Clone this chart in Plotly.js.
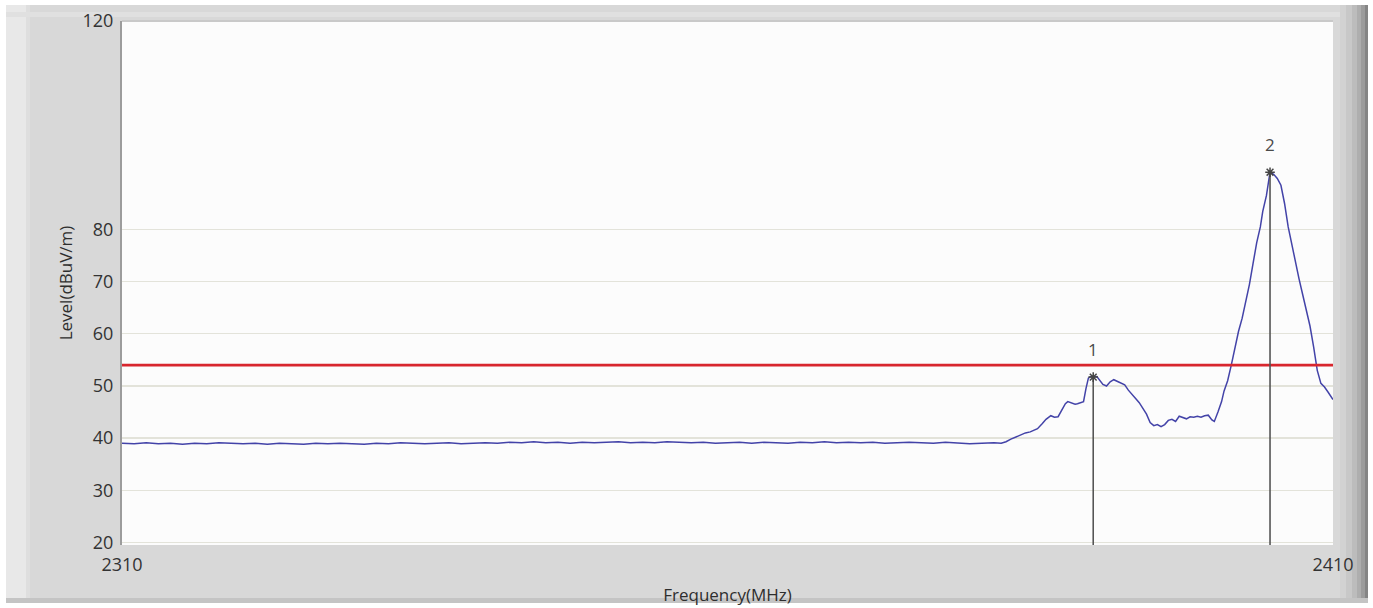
<!DOCTYPE html>
<html>
<head>
<meta charset="utf-8">
<script src="https://cdn.plot.ly/plotly-3.0.1.min.js"></script>
<style>
html,body{margin:0;padding:0;background:#ffffff;}
#chart{width:1373px;height:608px;}
</style>
</head>
<body>
<div id="chart"></div>
<script>
// ---- data ----
const freqMHz = [
  2310,2311,2312,2313,2314,2315,2316,2317,2318,2319,
  2320,2321,2322,2323,2324,2325,2326,2327,2328,2329,
  2330,2331,2332,2333,2334,2335,2336,2337,2338,2339,
  2340,2341,2342,2343,2344,2345,2346,2347,2348,2349,
  2350,2351,2352,2353,2354,2355,2356,2357,2358,2359,
  2360,2361,2362,2363,2364,2365,2366,2367,2368,2369,
  2370,2371,2372,2373,2374,2375,2376,2377,2378,2379,
  2380,2381,2382,
  2382.6,2383.0,2383.4,2383.8,2384.2,2384.6,2385.0,2385.4,2385.6,2386.0,
  2386.3,2386.7,2387.0,2387.3,2387.6,2387.9,2388.1,2388.4,2388.7,2388.9,
  2389.2,2389.4,2389.6,2389.8,2390.0,2390.2,2390.5,2390.7,2391.0,2391.3,
  2391.6,2391.9,2392.2,2392.5,2392.8,2393.1,2393.4,2393.7,2394.0,2394.3,
  2394.6,2394.9,2395.2,2395.5,2395.8,2396.1,2396.4,2396.7,2397.0,2397.3,
  2397.6,2397.9,2398.2,2398.5,2398.8,2399.1,2399.4,2399.7,2400.0,2400.2,
  2400.5,2400.8,2401.0,2401.3,2401.6,2401.9,2402.2,2402.5,2402.8,2403.1,
  2403.4,2403.7,2404.0,2404.2,2404.5,2404.7,2404.8,2405.1,2405.4,2405.7,
  2406.0,2406.3,2406.6,2406.9,2407.2,2407.5,2407.8,2408.1,2408.4,2408.7,
  2409.0,2409.3,2409.6,2410.0
];
const levelDBuV = [
  39.0,38.9,39.1,38.9,39.0,38.8,39.0,38.9,39.1,39.0,
  38.9,39.0,38.8,39.0,38.9,38.8,39.0,38.9,39.0,38.9,
  38.8,39.0,38.9,39.1,39.0,38.9,39.0,39.1,38.9,39.0,
  39.1,39.0,39.2,39.1,39.3,39.1,39.2,39.0,39.2,39.1,
  39.2,39.3,39.1,39.2,39.1,39.3,39.2,39.1,39.2,39.0,
  39.1,39.2,39.0,39.2,39.1,39.0,39.2,39.1,39.3,39.1,
  39.2,39.1,39.2,39.0,39.1,39.2,39.1,39.0,39.2,39.1,
  38.9,39.0,39.1,
  39.0,39.3,39.8,40.2,40.6,41.0,41.2,41.6,41.8,42.8,
  43.6,44.3,44.0,44.1,45.4,46.6,47.0,46.8,46.5,46.6,
  46.8,47.0,49.5,51.5,51.8,51.7,51.8,51.2,50.3,50.0,
  50.8,51.2,50.9,50.6,50.2,49.2,48.3,47.6,46.8,45.8,
  44.6,43.0,42.4,42.6,42.2,42.6,43.4,43.6,43.2,44.2,
  44.0,43.7,44.1,44.0,44.2,44.0,44.3,44.4,43.5,43.2,
  45.0,47.0,49.0,51.0,54.0,57.5,60.5,63.0,66.0,69.5,
  73.5,77.5,80.5,83.5,86.5,89.5,91.0,90.6,89.8,88.5,
  85.0,80.5,77.0,73.5,70.5,67.5,64.5,61.5,57.5,53.0,
  50.5,49.8,48.8,47.4
];
const limitLevel = 54;
const markerLabels = ["1","2"];
const markerFreq = [2390.2, 2404.8];
const markerLevel = [51.7, 91.0];
const yTickVals = [20,30,40,50,60,70,80,120];
const xTickVals = [2310, 2410];
const yRange = [19.5, 120];
const xRange = [2310, 2410];

// ---- frame geometry helpers (pixels -> paper) ----
const W = 1373, H = 608;
const M = {l:122, r:40, t:21, b:63};
const pw = W - M.l - M.r, ph = H - M.t - M.b;
const px = v => (v - M.l) / pw;
const py = v => (H - M.b - v) / ph;
function rect(x0,y0,x1,y1,fill){
  return {type:'rect', xref:'paper', yref:'paper', layer:'below',
    x0:px(x0), x1:px(x1), y0:py(y1), y1:py(y0), fillcolor:fill, line:{width:0}};
}
const frame = [
  rect(6,5,1368,603,'#d8d8d8'),
  rect(6,5,26,603,'#e8e8e8'),
  rect(26,5,30,603,'#dedede'),
  rect(6,12,1340,17,'#e0e0e0'),
  rect(1340,5,1346,603,'#d2d2d2'),
  rect(1346,5,1352,603,'#c8c8c8'),
  rect(1352,5,1357,603,'#bcbcbc'),
  rect(1357,5,1361,603,'#aeaeae'),
  rect(1361,5,1365,603,'#9c9c9c'),
  rect(1365,5,1368,603,'#858585'),
  rect(6,598,1368,603,'#c4c4c4'),
  {type:'rect', xref:'paper', yref:'paper', layer:'below',
   x0:0, x1:1, y0:0, y1:1, fillcolor:'#fcfcfc', line:{width:0}},
  {type:'line', xref:'paper', yref:'paper', layer:'below',
   x0:0, x1:1, y0:1, y1:1, line:{color:'#c9c9c9', width:2}}
];

const traces = [
  {x:freqMHz, y:levelDBuV, type:'scatter', mode:'lines',
   line:{color:'#4343a8', width:1.5}, hoverinfo:'x+y', showlegend:false},
  {x:xRange, y:[limitLevel, limitLevel], type:'scatter', mode:'lines',
   line:{color:'#d8262e', width:2.6}, showlegend:false},
  {x:[markerFreq[0], markerFreq[0]], y:[yRange[0], markerLevel[0]], type:'scatter', mode:'lines',
   line:{color:'#555555', width:1.6}, showlegend:false},
  {x:[markerFreq[1], markerFreq[1]], y:[yRange[0], markerLevel[1]], type:'scatter', mode:'lines',
   line:{color:'#555555', width:1.6}, showlegend:false},
  {x:markerFreq, y:markerLevel, type:'scatter', mode:'markers',
   marker:{symbol:'asterisk-open', size:8, color:'#444444', line:{color:'#444444', width:1.5}},
   showlegend:false}
];

const FONT = 'Open Sans, DejaVu Sans, sans-serif';
const annotations = markerLabels.map((t,i)=>({
  x:markerFreq[i], y:markerLevel[i], text:t, showarrow:false,
  yshift:28, font:{family:FONT, size:17, color:'#4a4a4a'}
}));

const layout = {
  width:W, height:H,
  margin:M,
  paper_bgcolor:'#ffffff',
  plot_bgcolor:'#fcfcfc',
  showlegend:false,
  font:{family:FONT, color:'#333333'},
  xaxis:{
    range:xRange, tickvals:xTickVals, ticktext:xTickVals.map(String),
    showgrid:false, zeroline:false, showline:false,
    ticks:'outside', ticklen:3, tickcolor:'rgba(0,0,0,0)',
    tickfont:{size:18, color:'#333333'},
    title:{text:'Frequency(MHz)', standoff:14, font:{size:17, color:'#2e2e2e'}}
  },
  yaxis:{
    range:yRange, tickvals:yTickVals, ticktext:yTickVals.map(String),
    showgrid:true, gridcolor:'#e3e3da', gridwidth:1.3, zeroline:false,
    showline:true, linecolor:'#9c9c9c', linewidth:2,
    ticks:'outside', ticklen:3, tickcolor:'rgba(0,0,0,0)',
    tickfont:{size:18, color:'#333333'},
    title:{text:'Level(dBuV/m)', standoff:6, font:{size:17, color:'#2e2e2e'}}
  },
  shapes:frame,
  annotations:annotations
};

Plotly.newPlot('chart', traces, layout, {displayModeBar:false, staticPlot:true});
</script>
</body>
</html>
